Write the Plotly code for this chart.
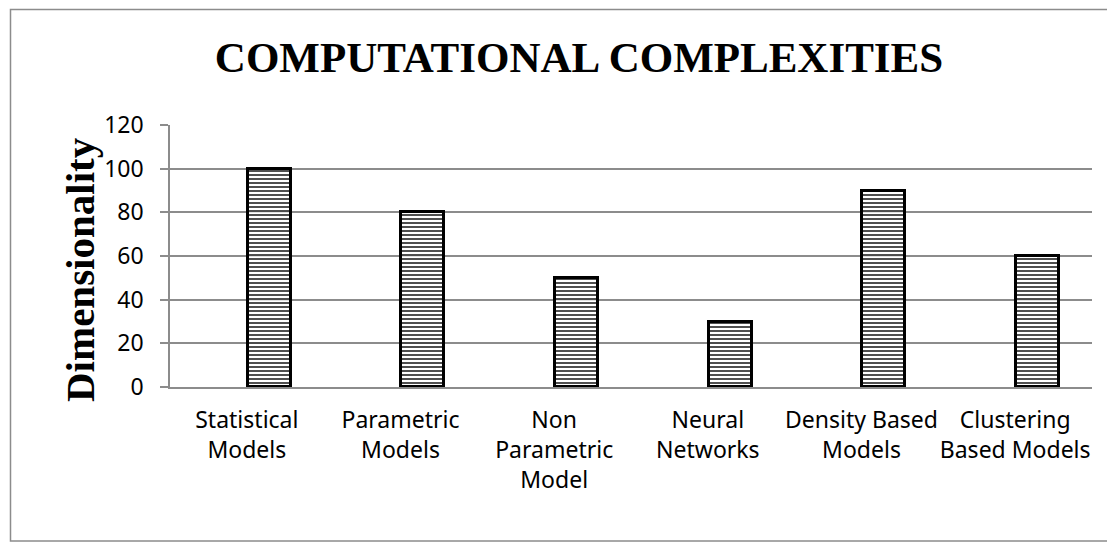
import plotly.graph_objects as go

categories = ["Statistical<br>Models", "Parametric<br>Models", "Non<br>Parametric<br>Model",
              "Neural<br>Networks", "Density Based<br>Models", "Clustering<br>Based Models"]
values = [100, 80, 50, 30, 90, 60]
y_ticks = [0, 20, 40, 60, 80, 100, 120]

# page body has an 8px margin; figure sized to fill the rest of the window
OFF = 8
W, H = 1115 - OFF, 542 - OFF
L, R, T, B = 170 - OFF, 23, 125 - OFF, 155
pw, ph = W - L - R, H - T - B

def px(x):
    return (x - OFF - L) / pw

def py(y):
    return (H - B - (y - OFF)) / ph

fig = go.Figure()
fig.add_trace(go.Bar(
    x=categories, y=values,
    width=0.28, offset=0.005,
    marker=dict(
        color="rgba(255,255,255,0.75)",
        line=dict(color="black", width=3),
        pattern=dict(shape="-", size=4, solidity=0.45, fgcolor="#3a3a3a",
                     bgcolor="rgba(255,255,255,0.75)", fillmode="replace"),
    ),
    showlegend=False,
    hoverinfo="x+y",
))

fig.update_layout(
    width=W, height=H,
    margin=dict(l=L, r=R, t=T, b=B, autoexpand=False),
    paper_bgcolor="white", plot_bgcolor="white",
    title=dict(text="<b>COMPUTATIONAL COMPLEXITIES</b>",
               font=dict(family="Liberation Serif", size=43, color="black"),
               x=(579 - OFF) / W, xanchor="center", y=1 - (57 - OFF) / H, yanchor="middle",
               xref="container", yref="container"),
    xaxis=dict(
        type="category",
        tickfont=dict(family="Noto Sans", size=23, color="black"),
        tickangle=0,
        ticklabelstandoff=12,
        showline=True, linecolor="#8c8c8c", linewidth=1.5,
        ticks="", showgrid=False,
    ),
    yaxis=dict(
        range=[0, 120], tickvals=y_ticks,
        tickfont=dict(family="Noto Sans", size=23, color="black"),
        ticklabelstandoff=12,
        showline=True, linecolor="#8c8c8c", linewidth=1.5,
        ticks="outside", ticklen=8, tickcolor="#8c8c8c", tickwidth=1.5,
        showgrid=True, gridcolor="#8c8c8c", gridwidth=1.5,
        zeroline=False,
    ),
    annotations=[dict(text="<b>Dimensionality</b>", textangle=-90,
                      xref="paper", yref="paper", x=px(80), y=py(270),
                      xanchor="center", yanchor="middle", showarrow=False,
                      font=dict(family="Liberation Serif", size=41, color="black"))],
    shapes=[dict(type="rect", xref="paper", yref="paper",
                 x0=px(10.5), x1=px(1125), y0=py(541), y1=py(9.5),
                 line=dict(color="#8c8c8c", width=1.5), layer="below")],
    bargap=0,
)

fig.write_html("out.html")
